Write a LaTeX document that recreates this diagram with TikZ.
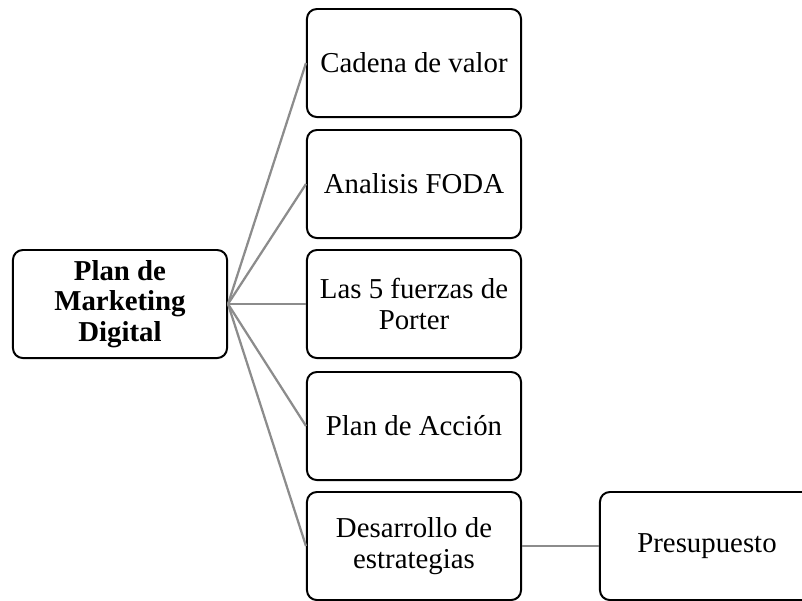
\documentclass[tikz,border=0pt]{standalone}
\usepackage{fontspec}
\setmainfont{Liberation Serif}
\tikzset{
  box/.style={draw, line width=1.4pt, rounded corners=7pt,
    minimum width=5.35cm, minimum height=2.7cm, align=center,
    font=\fontsize{20.5}{21.5}\selectfont},
  link/.style={draw=black!45, line width=1.6pt}
}
\begin{document}
\begin{tikzpicture}[x=0.025cm, y=-0.025cm]
  \clip (0,0) rectangle (802,600);
  \node[box] (plan) at (120,304) {\bfseries Plan de\\\bfseries Marketing\\\bfseries Digital};
  \node[box] (cadena) at (414,63) {Cadena de valor};
  \node[box] (foda) at (414,184) {Analisis FODA};
  \node[box] (porter) at (414,304) {Las 5 fuerzas de\\Porter};
  \node[box] (accion) at (414,426) {Plan de Acción};
  \node[box] (estrategias) at (414,546) {Desarrollo de\\estrategias};
  \node[box] (presupuesto) at (707,546) {Presupuesto};
  \draw[link] (plan.east) -- (cadena.west);
  \draw[link] (plan.east) -- (foda.west);
  \draw[link] (plan.east) -- (porter.west);
  \draw[link] (plan.east) -- (accion.west);
  \draw[link] (plan.east) -- (estrategias.west);
  \draw[link] (estrategias.east) -- (presupuesto.west);
\end{tikzpicture}
\end{document}
